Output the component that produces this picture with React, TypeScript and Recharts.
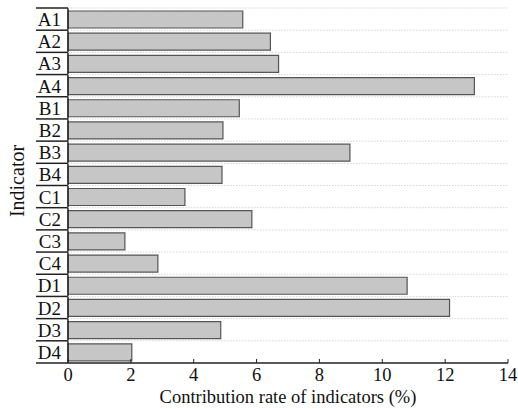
import { BarChart, Bar, XAxis, YAxis } from "recharts";

const indicators = ["A1", "A2", "A3", "A4", "B1", "B2", "B3", "B4", "C1", "C2", "C3", "C4", "D1", "D2", "D3", "D4"];
const contribution = [5.56, 6.44, 6.7, 12.93, 5.45, 4.93, 8.97, 4.9, 3.72, 5.85, 1.81, 2.86, 10.79, 12.14, 4.86, 2.03];
const xTicks = [0, 2, 4, 6, 8, 10, 12, 14];

const data = indicators.map((name, i) => ({ name, value: contribution[i] }));

const FONT = "'Liberation Serif', 'Times New Roman', serif";
const W = 518;
const H = 409;
const AXIS_X = 68;
const PLOT_RIGHT = 508;
const PLOT_TOP = 8;
const PLOT_BOTTOM = 363;
const BAND = (PLOT_BOTTOM - PLOT_TOP) / indicators.length;

const textStyle = (size: number) => ({ fontFamily: FONT, fontSize: size, fill: "#111" });

function renderYTick(props: any) {
  const { y, payload, index } = props;
  const half = payload?.offset ?? BAND / 2;
  const top = y - half;
  const bottom = y + half;
  return (
    <g key={`yt-${index}`}>
      <line x1={36} x2={AXIS_X} y1={top} y2={top} stroke="#222" strokeWidth={1.5} />
      <line x1={AXIS_X} x2={PLOT_RIGHT} y1={top} y2={top} stroke="#d4d4d4" strokeDasharray="1.5 1.5" />
      {index === indicators.length - 1 && (
        <line x1={36} x2={AXIS_X} y1={bottom} y2={bottom} stroke="#222" strokeWidth={1.5} />
      )}
      <text x={61} y={y} dy={7} textAnchor="end" style={textStyle(19)}>
        {payload.value}
      </text>
    </g>
  );
}

function renderXTick(props: any) {
  const { x, payload, index } = props;
  return (
    <g key={`xt-${index}`}>
      <line x1={x} x2={x} y1={PLOT_BOTTOM} y2={PLOT_BOTTOM - 4} stroke="#222" />
      <text x={x} y={PLOT_BOTTOM + 18} textAnchor="middle" style={textStyle(18.5)}>
        {payload.value}
      </text>
    </g>
  );
}

function XTitle(props: any) {
  const vb = props.viewBox || {};
  const cx = (vb.x ?? AXIS_X) + (vb.width ?? PLOT_RIGHT - AXIS_X) / 2;
  return (
    <text x={cx} y={H - 6} textAnchor="middle" style={textStyle(18.5)}>
      Contribution rate of indicators (%)
    </text>
  );
}

function YTitle() {
  const cy = 181;
  return (
    <text x={24} y={cy} textAnchor="middle" transform={`rotate(-90 24 ${cy})`} style={textStyle(20)}>
      Indicator
    </text>
  );
}

export default function App() {
  return (
    <div style={{ position: "absolute", left: 0, top: 0, background: "#fff", fontFamily: FONT }}>
      <BarChart
        width={W}
        height={H}
        data={data}
        layout="vertical"
        margin={{ top: PLOT_TOP, right: W - PLOT_RIGHT, left: 0, bottom: 0 }}
        barSize={17}
      >
        <XAxis
          type="number"
          domain={[0, 14]}
          ticks={xTicks}
          tick={renderXTick}
          tickLine={false}
          axisLine={{ stroke: "#222", strokeWidth: 1.5 }}
          height={H - PLOT_BOTTOM}
          interval={0}
          label={<XTitle />}
        />
        <XAxis xAxisId="top" orientation="top" type="number" domain={[0, 14]} tick={false} tickLine={false} height={0} axisLine={{ stroke: "#444", strokeWidth: 1.5 }} />
        <YAxis
          type="category"
          dataKey="name"
          width={AXIS_X}
          tick={renderYTick}
          tickLine={false}
          tickSize={0}
          interval={0}
          axisLine={{ stroke: "#222", strokeWidth: 1.5 }}
          label={<YTitle />}
        />
        <YAxis yAxisId="right" orientation="right" type="category" dataKey="name" tick={false} tickLine={false} width={0} axisLine={{ stroke: "#444", strokeWidth: 1.5 }} />
        <Bar dataKey="value" fill="#c6c6c6" stroke="#555" strokeWidth={1.2} isAnimationActive={false} />
      </BarChart>
    </div>
  );
}
